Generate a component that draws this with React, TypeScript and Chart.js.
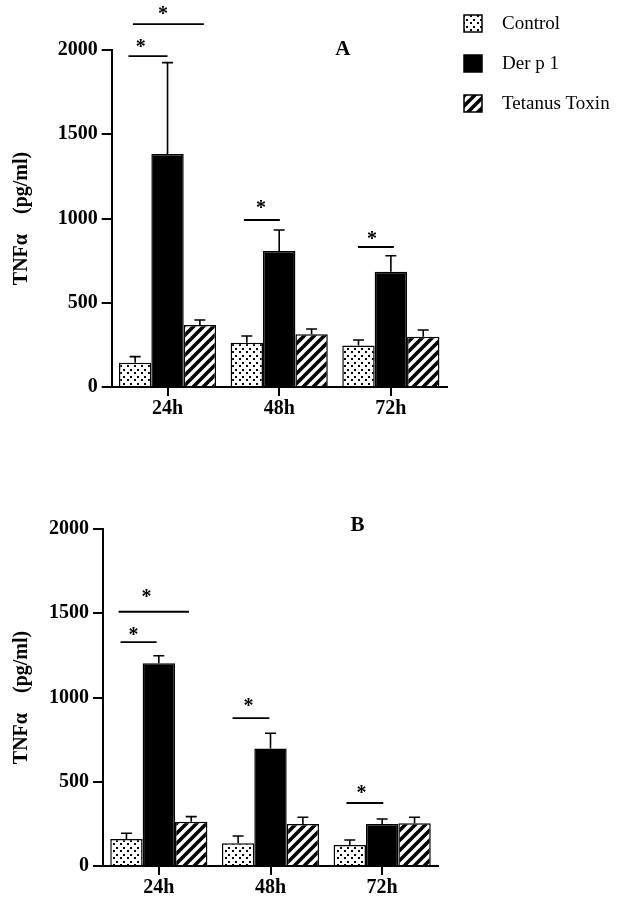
import { useEffect, useRef } from 'react';
import { Chart, registerables } from 'chart.js';
Chart.register(...registerables);

// ---- data ----
const categories = ['24h', '48h', '72h'];
const seriesNames = ['Control', 'Der p 1', 'Tetanus Toxin'];
const yTicks = [0, 500, 1000, 1500, 2000];
const yAxisTitle = 'TNFα    (pg/ml)';

const controlA = [144, 263, 247];
const derA = [1383, 807, 684];
const tetA = [368, 313, 298];
const controlAErr = [36, 40, 32];
const derAErr = [542, 125, 95];
const tetAErr = [30, 31, 40];

const controlB = [160, 135, 125];
const derB = [1203, 698, 249];
const tetB = [263, 249, 253];
const controlBErr = [34, 43, 29];
const derBErr = [45, 90, 30];
const tetBErr = [30, 40, 36];

// significance marks: category, line from/to (category units, relative to centre), line value, asterisk x offset, asterisk value
const sigA = [
  { cat: 0, x0: -0.35, x1: 0.0, y: 1964, sx: -0.24, sy: 2042 },
  { cat: 0, x0: -0.31, x1: 0.325, y: 2154, sx: -0.04, sy: 2237 },
  { cat: 1, x0: -0.316, x1: 0.006, y: 991, sx: -0.164, sy: 1086 },
  { cat: 2, x0: -0.295, x1: 0.027, y: 831, sx: -0.17, sy: 902 },
];
const sigB = [
  { cat: 0, x0: -0.36, x1: 0.27, y: 1509, sx: -0.11, sy: 1620 },
  { cat: 0, x0: -0.343, x1: -0.02, y: 1329, sx: -0.227, sy: 1395 },
  { cat: 1, x0: -0.34, x1: -0.01, y: 878, sx: -0.197, sy: 973 },
  { cat: 2, x0: -0.32, x1: 0.01, y: 374, sx: -0.185, sy: 457 },
];
const panelLetterA = { text: 'A', x: 1.57, y: 2000 };
const panelLetterB = { text: 'B', x: 1.78, y: 2018 };

const SERIF = "'Liberation Serif', 'Times New Roman', serif";

function makeDots(): CanvasPattern {
  const s = 7;
  const c = document.createElement('canvas');
  c.width = s; c.height = s;
  const g = c.getContext('2d')!;
  g.fillStyle = '#fff'; g.fillRect(0, 0, s, s);
  g.fillStyle = '#000';
  g.fillRect(1, 1, 2, 2);
  g.fillRect(4, 5, 2, 2);
  return g.createPattern(c, 'repeat')!;
}

function makeStripes(): CanvasPattern {
  const s = 10;
  const c = document.createElement('canvas');
  c.width = s; c.height = s;
  const g = c.getContext('2d')!;
  g.fillStyle = '#fff'; g.fillRect(0, 0, s, s);
  g.strokeStyle = '#000'; g.lineWidth = 3.6;
  g.beginPath();
  g.moveTo(-2, s + 2); g.lineTo(s + 2, -2);
  g.moveTo(-3, 3); g.lineTo(3, -3);
  g.moveTo(s - 3, s + 3); g.lineTo(s + 3, s - 3);
  g.stroke();
  return g.createPattern(c, 'repeat')!;
}

type Panel = {
  control: number[]; der: number[]; tet: number[];
  controlErr: number[]; derErr: number[]; tetErr: number[];
  sig: typeof sigA; letter: typeof panelLetterA;
  top: number; right: number; yw: number; xh: number; legend: boolean;
};

function buildChart(canvas: HTMLCanvasElement, p: Panel) {
  const dots = makeDots();
  const stripes = makeStripes();
  const fills: (string | CanvasPattern)[] = [dots, '#000', stripes];
  const errs = [p.controlErr, p.derErr, p.tetErr];
  const tickFont = { family: SERIF, weight: 'bold' as const, size: 20 };

  const overlay = {
    id: 'overlay',
    afterDraw(chart: any) {
      const ctx = chart.ctx as CanvasRenderingContext2D;
      const xs = chart.scales.x;
      const ys = chart.scales.y;
      const catW = xs.getPixelForValue(1) - xs.getPixelForValue(0);
      ctx.save();
      // error bars
      ctx.strokeStyle = '#000';
      ctx.lineWidth = 1.6;
      for (let d = 0; d < 3; d++) {
        const meta = chart.getDatasetMeta(d);
        const ds = chart.data.datasets[d];
        meta.data.forEach((bar: any, i: number) => {
          const v = ds.data[i] as number;
          const top = ys.getPixelForValue(v + errs[d][i]);
          ctx.beginPath();
          ctx.moveTo(bar.x, bar.y);
          ctx.lineTo(bar.x, top);
          ctx.moveTo(bar.x - 5.5, top);
          ctx.lineTo(bar.x + 5.5, top);
          ctx.stroke();
        });
      }
      // significance lines + asterisks
      ctx.lineWidth = 1.8;
      ctx.fillStyle = '#000';
      ctx.font = `bold 20px ${SERIF}`;
      ctx.textAlign = 'center';
      ctx.textBaseline = 'alphabetic';
      p.sig.forEach((s) => {
        const cx = xs.getPixelForValue(s.cat);
        const y = ys.getPixelForValue(s.y);
        ctx.beginPath();
        ctx.moveTo(cx + s.x0 * catW, y);
        ctx.lineTo(cx + s.x1 * catW, y);
        ctx.stroke();
        const ay = ys.getPixelForValue(s.sy);
        ctx.fillText('*', cx + s.sx * catW, ay + 10);
      });
      // panel letter
      ctx.font = `bold 21px ${SERIF}`;
      ctx.textBaseline = 'middle';
      const lx = xs.getPixelForValue(0) + p.letter.x * catW;
      ctx.fillText(p.letter.text, lx, ys.getPixelForValue(p.letter.y));
      // legend
      if (p.legend) {
        ctx.textAlign = 'left';
        ctx.font = `19px ${SERIF}`;
        chart.data.datasets.forEach((ds: any, i: number) => {
          const by = 15 + i * 40;
          ctx.fillStyle = fills[i] as any;
          ctx.fillRect(464, by, 18, 17);
          ctx.lineWidth = 1.5;
          ctx.strokeStyle = '#000';
          ctx.strokeRect(464, by, 18, 17);
          ctx.fillStyle = '#000';
          ctx.fillText(ds.label, 502, by + 9);
        });
      }
      ctx.restore();
    },
  };

  return new Chart(canvas, {
    type: 'bar',
    data: {
      labels: categories,
      datasets: [
        { label: seriesNames[0], data: p.control, backgroundColor: dots as any, borderColor: '#000', borderWidth: 1.5 },
        { label: seriesNames[1], data: p.der, backgroundColor: '#000', borderColor: '#000', borderWidth: 1.5 },
        { label: seriesNames[2], data: p.tet, backgroundColor: stripes as any, borderColor: '#000', borderWidth: 1.5 },
      ],
    },
    options: {
      animation: false,
      responsive: false,
      layout: { padding: { top: p.top, right: p.right, left: 0, bottom: 0 } },
      datasets: { bar: { barPercentage: 1, categoryPercentage: 0.87 } },
      plugins: { legend: { display: false }, tooltip: { enabled: false } },
      scales: {
        x: {
          grid: { offset: false, drawOnChartArea: false, tickLength: 9, color: '#000', lineWidth: 2 },
          border: { display: true, color: '#000', width: 2 },
          ticks: { font: tickFont, color: '#000', padding: 1, maxRotation: 0 },
          afterFit: (s: any) => { s.height = p.xh; },
        },
        y: {
          min: 0,
          max: 2000,
          afterBuildTicks: (s: any) => { s.ticks = yTicks.map((v) => ({ value: v })); },
          grid: { drawOnChartArea: false, tickLength: 10, color: '#000', lineWidth: 2 },
          border: { display: true, color: '#000', width: 2 },
          ticks: { font: tickFont, color: '#000', padding: 4, callback: (v: any) => String(v) },
          title: {
            display: true,
            text: yAxisTitle,
            color: '#000',
            font: { family: SERIF, weight: 'bold', size: 20 },
            padding: { top: 10, bottom: 0 },
          },
          afterFit: (s: any) => { s.width = p.yw; },
        },
      },
    },
    plugins: [overlay],
  });
}

export default function App() {
  const refA = useRef<HTMLCanvasElement>(null);
  const refB = useRef<HTMLCanvasElement>(null);
  useEffect(() => {
    const a = buildChart(refA.current!, {
      control: controlA, der: derA, tet: tetA,
      controlErr: controlAErr, derErr: derAErr, tetErr: tetAErr,
      sig: sigA, letter: panelLetterA,
      top: 50, right: 619 - 446.7, yw: 111.7, xh: 450 - 387, legend: true,
    });
    const b = buildChart(refB.current!, {
      control: controlB, der: derB, tet: tetB,
      controlErr: controlBErr, derErr: derBErr, tetErr: tetBErr,
      sig: sigB, letter: panelLetterB,
      top: 79, right: 619 - 438, yw: 103, xh: 450 - 416, legend: false,
    });
    return () => { a.destroy(); b.destroy(); };
  }, []);
  return (
    <div style={{ position: 'absolute', left: 0, top: 0, width: 619, height: 900, background: '#fff' }}>
      <canvas ref={refA} width={619} height={450} style={{ position: 'absolute', left: 0, top: 0 }} />
      <canvas ref={refB} width={619} height={450} style={{ position: 'absolute', left: 0, top: 450 }} />
    </div>
  );
}
